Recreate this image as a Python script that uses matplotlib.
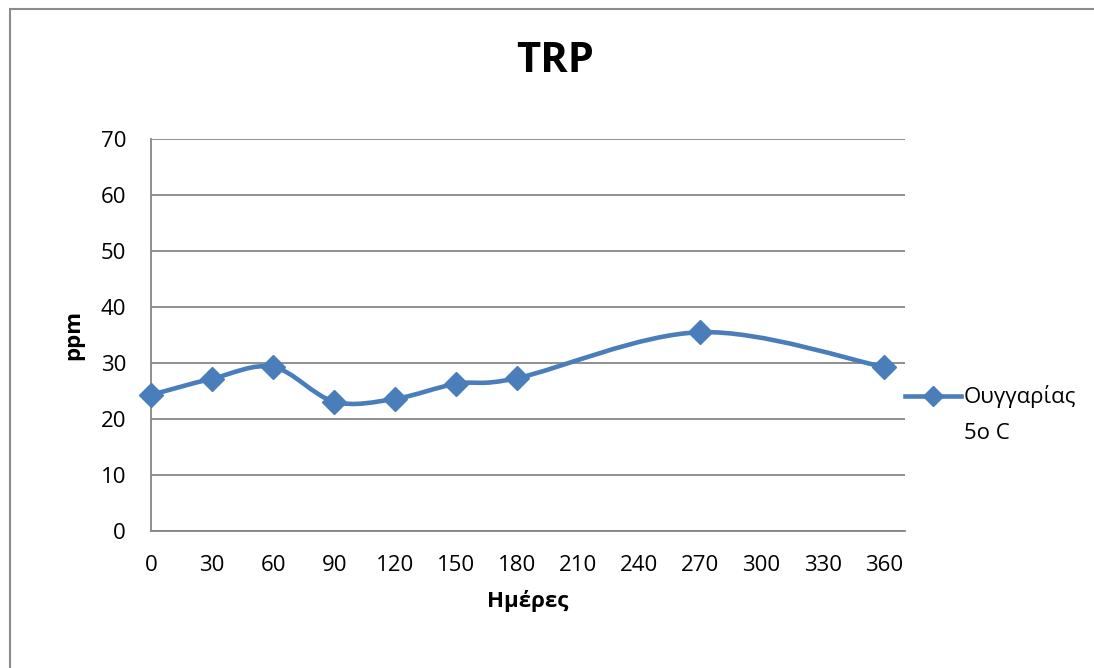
import matplotlib
matplotlib.use('Agg')
import matplotlib.pyplot as plt
from matplotlib.path import Path
from matplotlib.patches import PathPatch, Rectangle
from matplotlib.lines import Line2D
from matplotlib.transforms import IdentityTransform
import numpy as np

plt.rcParams['font.family'] = ['Open Sans', 'DejaVu Sans']

categories = ['0', '30', '60', '90', '120', '150', '180', '210', '240', '270', '300', '330', '360']
days = [0, 30, 60, 90, 120, 150, 180, 270, 360]
ppm = [24.3, 27.2, 29.3, 23.1, 23.6, 26.3, 27.3, 35.5, 29.3]
series_name = ['Ουγγαρίας', '5o C']

blue = '#4a7ebb'
grid = '#868686'

fig = plt.figure(figsize=(10.94, 6.68), dpi=100)
ax = fig.add_axes([151 / 1094, 1 - 531 / 668, (905 - 151) / 1094, (531 - 139) / 668])

# outer chart border
fig.patches.append(Rectangle((10 / 1094, -0.05), 1.1, 1 - 9 / 668 + 0.05,
                             transform=fig.transFigure, fill=False,
                             edgecolor='#8c8c8c', linewidth=1.5))

# category positions
x = np.array([categories.index(str(d)) for d in days], dtype=float)
y = np.array(ppm)

# smoothed line (bezier through the points)
verts = [(x[0], y[0])]
codes = [Path.MOVETO]
n = len(x)
for i in range(n - 1):
    p0 = np.array([x[max(i - 1, 0)], y[max(i - 1, 0)]])
    p1 = np.array([x[i], y[i]])
    p2 = np.array([x[i + 1], y[i + 1]])
    p3 = np.array([x[min(i + 2, n - 1)], y[min(i + 2, n - 1)]])
    c1 = p1 + (p2 - p0) / 6
    c2 = p2 - (p3 - p1) / 6
    verts += [tuple(c1), tuple(c2), tuple(p2)]
    codes += [Path.CURVE4] * 3
ax.add_patch(PathPatch(Path(verts, codes), facecolor='none', edgecolor=blue,
                       linewidth=3.3, capstyle='round', zorder=3, clip_on=False))
ax.plot(x, y, linestyle='none', marker='D', markersize=12, color=blue, zorder=4,
        clip_on=False)

ax.set_xlim(0, 12.35)
ax.set_ylim(0, 70)
ax.set_yticks(range(0, 71, 10))
ax.set_xticks(range(len(categories)))
ax.set_xticklabels(categories)
ax.yaxis.grid(True, color=grid, linewidth=1.3)
ax.set_axisbelow(True)
for s in ['top', 'right']:
    ax.spines[s].set_visible(False)
for s in ['left', 'bottom']:
    ax.spines[s].set_color(grid)
    ax.spines[s].set_linewidth(1.3)
ax.tick_params(length=0, labelsize=16)
ax.tick_params(axis='x', pad=17)
ax.tick_params(axis='y', pad=18)

# title centred on the whole chart area
fig.text(555 / 1094, 1 - 62 / 668, 'TRP', fontsize=30, fontweight='bold',
         ha='center', va='center')
ax.set_xlabel('Ημέρες', fontsize=16, fontweight='bold', labelpad=10)
ax.set_ylabel('ppm', fontsize=16, fontweight='bold', labelpad=12)

handle = Line2D([], [], color=blue, linewidth=3.3, marker='D', markersize=10)
leg = ax.legend([handle], [series_name[0]], loc='center left',
                bbox_to_anchor=(1.0, 0.342), frameon=False, fontsize=16,
                handlelength=2.5, handletextpad=0.15, borderpad=0,
                borderaxespad=0)

# second line of the series name, under the first
fig.canvas.draw()
bb = leg.get_texts()[0].get_window_extent()
fig.text(bb.x0, bb.y0 - 36, series_name[1], fontsize=16,
         transform=IdentityTransform(), va='bottom', ha='left')

fig.savefig('out.png', dpi=100)
